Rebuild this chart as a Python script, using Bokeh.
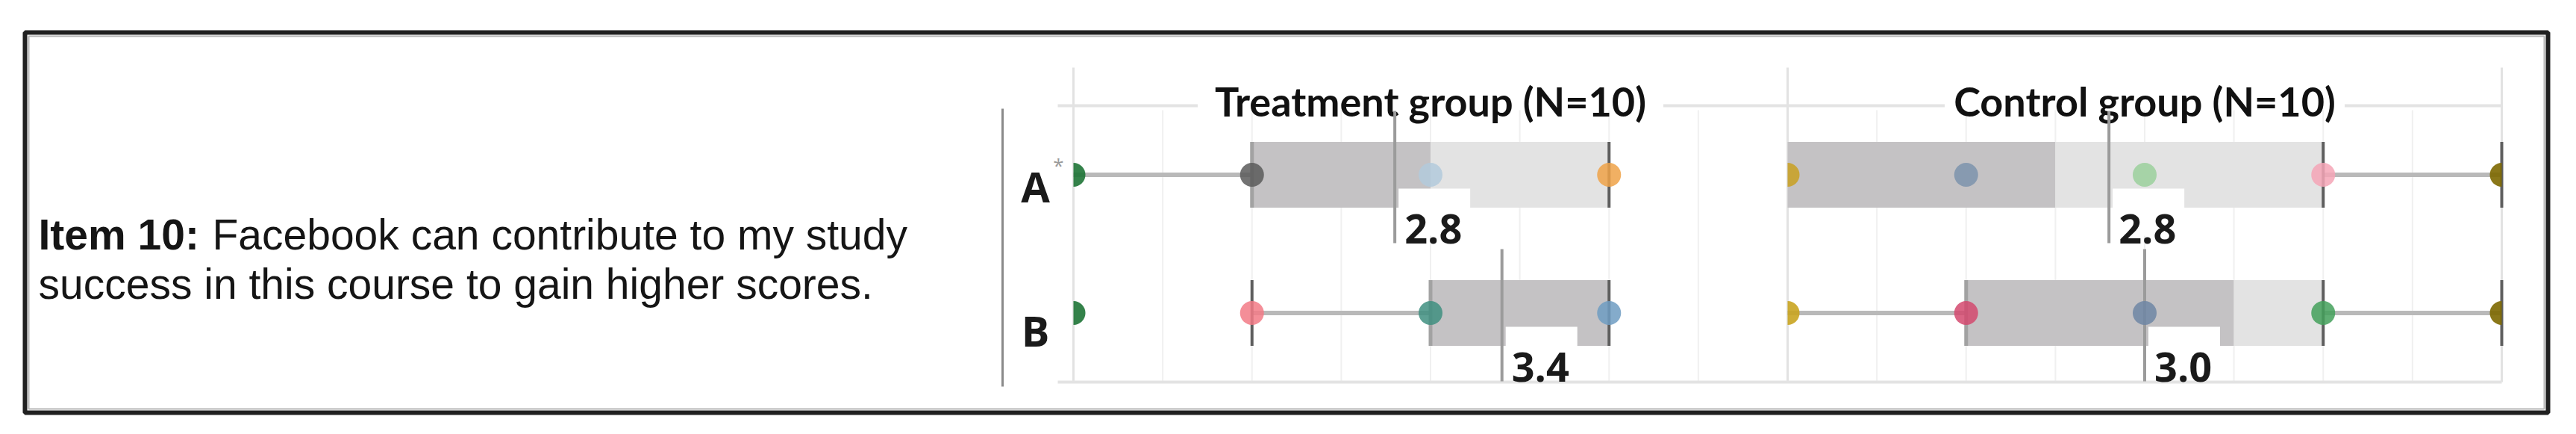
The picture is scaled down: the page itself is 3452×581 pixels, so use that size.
import math
from bokeh.plotting import figure
from bokeh.models import Range1d
from bokeh.core.properties import value
from bokeh.embed import file_html
from bokeh.resources import INLINE

# ---------------- data ----------------
item_label_bold = "Item 10:"
item_text_line1 = "Facebook can contribute to my study"
item_text_line2 = "success in this course to gain higher scores."
group_titles = ["Treatment group (N=10)", "Control group (N=10)"]
row_labels = ["A", "B"]
row_note = "*"

scale_min, scale_max = 1, 5

# cells in order: Treatment-A, Treatment-B, Control-A, Control-B
cell_group = [0, 0, 1, 1]
cell_row = [0, 1, 0, 1]
q1 = [2, 3, 1, 2]
median = [3, 4, 2.5, 3.5]
q3 = [4, 4, 4, 4]
whisker_low = [1, 2, 1, 1]
whisker_high = [4, 4, 5, 5]
mean = [2.8, 3.4, 2.8, 3.0]
mean_text = ["2.8", "3.4", "2.8", "3.0"]

point_values = [
    [1, 2, 3, 4],
    [1, 2, 3, 4],
    [1, 2, 3, 4, 5],
    [1, 2, 3, 4, 5],
]
point_colors = [
    ["#1e7436", "#5a5a5a", "#b3cadc", "#eea248"],
    ["#1e7436", "#f27a86", "#3f8f80", "#6e9cc2"],
    ["#c9a22a", "#7c93ad", "#9bd09c", "#f4a5b6", "#7d6800"],
    ["#c9a420", "#d4496f", "#6f86a4", "#43a05a", "#7d6800"],
]

# ---------------- layout (pixels) ----------------
W, H = 3452, 581
PX_X1 = 1438.0          # treatment value 1
PX_X_END = 3352.0       # control value 5
panel_offsets = [0, scale_max - scale_min]
U = (PX_X_END - PX_X1) / (2 * (scale_max - scale_min))
X_START = scale_min - PX_X1 / U
ROW0_PX = 233.5
ROW_PX = 185.0
Y_TOP = -ROW0_PX / ROW_PX
Y_BOTTOM = (H - ROW0_PX) / ROW_PX


def fx(px):
    return X_START + px / U


def fy(py):
    return (py - ROW0_PX) / ROW_PX


def dx(px):
    return px / U


def dy(py):
    return py / ROW_PX


p = figure(width=W, height=H, x_range=Range1d(X_START, X_START + W / U),
           y_range=Range1d(Y_BOTTOM, Y_TOP), output_backend="svg",
           toolbar_location=None, x_axis_type=None, y_axis_type=None,
           min_border=0, outline_line_color=None, title=None,
           background_fill_color="white", border_fill_color="white")
p.grid.visible = False

x_lo = scale_min + panel_offsets[0]
x_hi = scale_max + panel_offsets[-1]

# outer frame
p.quad(left=[fx(33)], right=[fx(3414)], top=[fy(43)], bottom=[fy(552)],
       fill_color=None, line_color="#202020", line_width=6)
p.quad(left=[fx(38)], right=[fx(3409)], top=[fy(48)], bottom=[fy(547)],
       fill_color=None, line_color="#b5b5b5", line_width=2)

# item text
font_item = value("Liberation Sans")
p.text(x=[fx(51)], y=[fy(313)], text=[item_label_bold], text_font=font_item,
       text_font_size="57px", text_font_style="bold", text_color="#151515",
       text_baseline="alphabetic", text_align="left")
p.text(x=[fx(284)], y=[fy(313)], text=[item_text_line1], text_font=font_item,
       text_font_size="57px", text_color="#151515",
       text_baseline="alphabetic", text_align="left")
p.text(x=[fx(51)], y=[fy(379)], text=[item_text_line2], text_font=font_item,
       text_font_size="57px", text_color="#151515",
       text_baseline="alphabetic", text_align="left")

# separator
p.segment(x0=[fx(1343)], y0=[fy(145)], x1=[fx(1343)], y1=[fy(517)],
          line_color="#8a8a8a", line_width=3)

# faint gridlines
gx = []
for off in panel_offsets:
    v = scale_min + 0.5
    while v < scale_max:
        gx.append(v + off)
        v += 0.5
p.segment(x0=gx, y0=[-0.5 + dy(6)] * len(gx), x1=gx, y1=[1.5] * len(gx),
          line_color="#f0f0f0", line_width=2)
# panel boundary lines
bx = [scale_min + off for off in panel_offsets] + [x_hi]
p.segment(x0=bx, y0=[fy(90)] * len(bx), x1=bx, y1=[1.5] * len(bx),
          line_color="#e2e2e2", line_width=3)

# header line + bottom line
p.segment(x0=[x_lo - dx(21)] * 2, y0=[-0.5, 1.5], x1=[x_hi] * 2, y1=[-0.5, 1.5],
          line_color="#e3e3e3", line_width=4)

# header masks + titles
title_half = [312, 268]
cx = [(scale_min + scale_max) / 2 + off for off in panel_offsets]
p.quad(left=[c - dx(h) for c, h in zip(cx, title_half)],
       right=[c + dx(h) for c, h in zip(cx, title_half)],
       top=[-0.5 - dy(5)] * 2, bottom=[-0.5 + dy(5)] * 2,
       fill_color="white", line_color=None)
p.text(x=cx, y=[-0.5] * 2, text=group_titles, y_offset=-6,
       text_font=value("Lato"), text_font_size="54px", text_font_style="bold",
       text_color="#111111", text_align="center", text_baseline="alphabetic")

# row labels
row_label_dy = [15, 23]
for r, lab in enumerate(row_labels):
    p.text(x=[fx(1387)], y=[r], text=[lab], y_offset=row_label_dy[r],
           text_font=value("Open Sans"), text_font_size="56px",
           text_font_style="bold", text_color="#1a1a1a",
           text_align="center", text_baseline="alphabetic")
p.text(x=[fx(1418)], y=[0], text=[row_note], y_offset=-13,
       text_font=value("Open Sans"), text_font_size="26px", text_color="#9a9a9a",
       text_align="center", text_baseline="alphabetic")

# ---------------- box plots ----------------
hh = dy(44)
wx0, wx1, wy = [], [], []
dl, dr, dt, db = [], [], [], []
ll, lr, lt, lb = [], [], [], []
edge_x, edge_y = [], []
cap_x, cap_y = [], []
for i in range(len(q1)):
    off = panel_offsets[cell_group[i]]
    r = cell_row[i]
    if whisker_low[i] < q1[i]:
        wx0.append(whisker_low[i] + off); wx1.append(q1[i] + off); wy.append(r)
    if whisker_high[i] > q3[i]:
        wx0.append(q3[i] + off); wx1.append(whisker_high[i] + off); wy.append(r)
    if median[i] > q1[i]:
        dl.append(q1[i] + off); dr.append(median[i] + off); dt.append(r - hh); db.append(r + hh)
    if q3[i] > median[i]:
        ll.append(median[i] + off); lr.append(q3[i] + off); lt.append(r - hh); lb.append(r + hh)
    if q1[i] > scale_min:
        edge_x.append(q1[i] + off); edge_y.append(r)
    caps = {q3[i], whisker_high[i]}
    if whisker_low[i] > scale_min and whisker_low[i] != q1[i]:
        caps.add(whisker_low[i])
    for c in sorted(caps):
        cap_x.append(c + off); cap_y.append(r)

p.segment(x0=wx0, y0=wy, x1=wx1, y1=wy, line_color="#b9b9b9", line_width=6)
p.quad(left=dl, right=dr, top=dt, bottom=db, fill_color="#c4c2c4", line_color=None)
p.quad(left=ll, right=lr, top=lt, bottom=lb, fill_color="#e3e3e3", line_color=None)
p.segment(x0=edge_x, y0=[y - hh for y in edge_y], x1=edge_x, y1=[y + hh for y in edge_y],
          line_color="#a2a2a2", line_width=5)
p.segment(x0=cap_x, y0=[y - hh for y in cap_y], x1=cap_x, y1=[y + hh for y in cap_y],
          line_color="#5e5e5e", line_width=4)

# mean reference lines
mx = [m + panel_offsets[g] for m, g in zip(mean, cell_group)]
p.segment(x0=mx, y0=[r - 0.5 + dy(7) for r in cell_row], x1=mx,
          y1=[r + 0.5 - dy(1) for r in cell_row], line_color="#9b9b9b", line_width=4)

# points
full_x, full_y, full_c = [], [], []
rh_x, rh_y, rh_c = [], [], []
lh_x, lh_y, lh_c = [], [], []
for i in range(len(point_values)):
    off = panel_offsets[cell_group[i]]
    r = cell_row[i]
    for v, c in zip(point_values[i], point_colors[i]):
        if v == scale_min:
            rh_x.append(v + off); rh_y.append(r); rh_c.append(c)
        elif v == scale_max:
            lh_x.append(v + off); lh_y.append(r); lh_c.append(c)
        else:
            full_x.append(v + off); full_y.append(r); full_c.append(c)
p.scatter(x=full_x, y=full_y, size=32, marker="circle", fill_color=full_c,
          line_color=None, fill_alpha=0.85)
p.wedge(x=rh_x, y=rh_y, radius=16, radius_units="screen", start_angle=-math.pi / 2,
        end_angle=math.pi / 2, fill_color=rh_c, line_color=None, fill_alpha=0.9)
p.wedge(x=lh_x, y=lh_y, radius=16, radius_units="screen", start_angle=math.pi / 2,
        end_angle=3 * math.pi / 2, fill_color=lh_c, line_color=None, fill_alpha=0.9)

# mean labels
p.quad(left=[x + dx(5) for x in mx], right=[x + dx(101) for x in mx],
       top=[r + 0.5 - dy(74) for r in cell_row], bottom=[r + 0.5 - dy(11) for r in cell_row],
       fill_color="white", line_color=None)
p.text(x=mx, y=[r + 0.5 for r in cell_row], text=mean_text, x_offset=13, y_offset=-20,
       text_font=value("Open Sans"), text_font_size="54px", text_font_style="bold",
       text_color="#1a1a1a", text_align="left", text_baseline="alphabetic")

open("out.html", "w").write(file_html(p, INLINE))
